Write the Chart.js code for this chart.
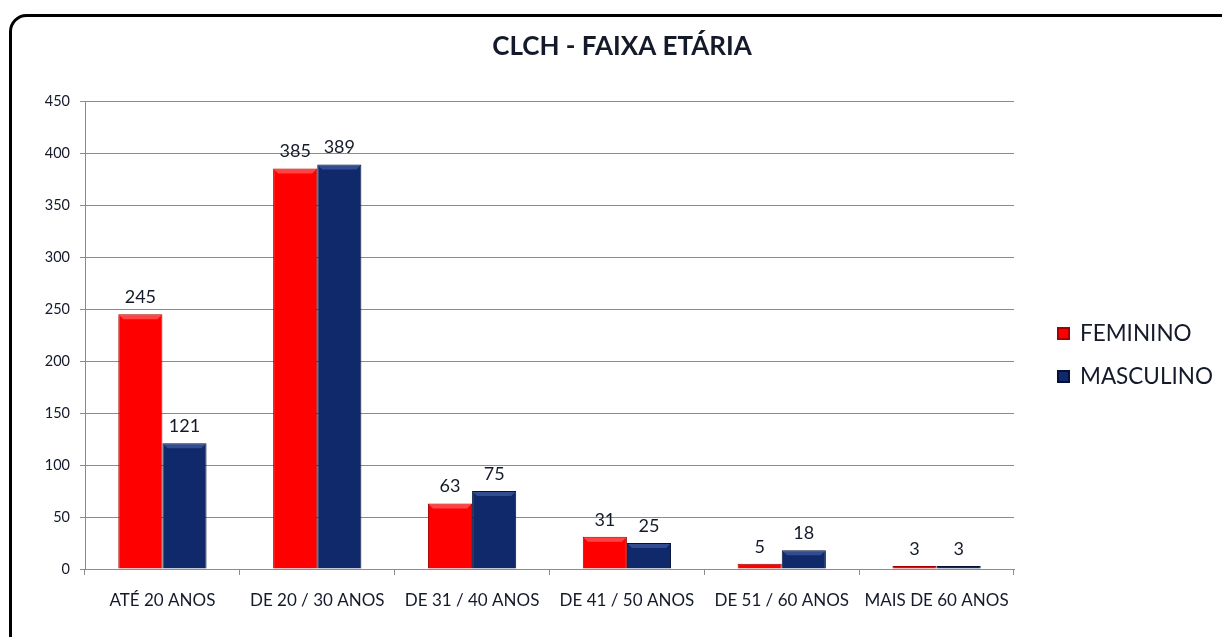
<!DOCTYPE html>
<html>
<head>
<meta charset="utf-8">
<script src="https://cdn.jsdelivr.net/npm/chart.js@4/dist/chart.umd.min.js"></script>
<style>
html,body{margin:0;padding:0;background:#fff;}
#wrap{width:1222px;height:637px;position:relative;}
</style>
</head>
<body>
<div id="wrap"><canvas id="c" width="1222" height="637"></canvas></div>
<script>
const chartTitle = "CLCH - FAIXA ETÁRIA";
const categories = ["ATÉ 20 ANOS", "DE 20 / 30 ANOS", "DE 31 / 40 ANOS", "DE 41 / 50 ANOS", "DE 51 / 60 ANOS", "MAIS DE 60 ANOS"];
const seriesNames = ["FEMININO", "MASCULINO"];
const feminino = [245, 385, 63, 31, 5, 3];
const masculino = [121, 389, 75, 25, 18, 3];
const yTicks = [0, 50, 100, 150, 200, 250, 300, 350, 400, 450];

const FONT = "Lato, 'Open Sans', sans-serif";
const TEXT = "#141a2a";
const RED = "#ff0000", RED_DARK = "#a80000", RED_LIGHT = "#ff3030";
const BLUE = "#10296a", BLUE_DARK = "#04123a", BLUE_LIGHT = "#1d3a82";

function barGradient(ctx, main, dark) {
  const el = ctx.element;
  const chart = ctx.chart;
  if (!el || el.x == null || !isFinite(el.x) || !el.width) return main;
  const g = chart.ctx.createLinearGradient(el.x - el.width / 2, 0, el.x + el.width / 2, 0);
  g.addColorStop(0, dark);
  g.addColorStop(0.1, main);
  g.addColorStop(0.9, main);
  g.addColorStop(1, dark);
  return g;
}

const framePlugin = {
  id: 'frame',
  beforeDraw(chart) {
    const c = chart.ctx;
    c.save();
    c.fillStyle = '#fff';
    c.fillRect(0, 0, chart.width, chart.height);
    c.lineWidth = 3;
    c.strokeStyle = '#000';
    const x = 10.5, y = 15.5, w = 1300, h = 700, r = 16;
    c.beginPath();
    c.moveTo(x + r, y);
    c.lineTo(x + w, y);
    c.moveTo(x, y + h);
    c.lineTo(x, y + r);
    c.arcTo(x, y, x + r, y, r);
    c.stroke();
    c.restore();
  },
  afterDatasetsDraw(chart) {
    // subtle bevel highlight on bar tops
    const c = chart.ctx;
    c.save();
    chart.data.datasets.forEach((ds, i) => {
      const meta = chart.getDatasetMeta(i);
      const light = i === 0 ? 'rgba(255,120,120,0.55)' : 'rgba(90,120,190,0.45)';
      meta.data.forEach((el) => {
        const p = el.getProps(['x', 'y', 'base', 'width'], true);
        const h = p.base - p.y;
        if (h < 8) return;
        c.fillStyle = light;
        c.beginPath();
        c.moveTo(p.x - p.width / 2 + 1, p.y + 1);
        c.lineTo(p.x + p.width / 2 - 1, p.y + 1);
        c.lineTo(p.x + p.width / 2 - 5, p.y + 5);
        c.lineTo(p.x - p.width / 2 + 5, p.y + 5);
        c.closePath();
        c.fill();
      });
    });
    c.restore();
  },
  afterDraw(chart) {
    const c = chart.ctx;
    c.save();
    // title
    c.fillStyle = TEXT;
    c.font = "bold 26px " + FONT;
    c.textAlign = 'center';
    c.textBaseline = 'middle';
    c.fillText(chartTitle, 622, 47);
    // legend
    const items = [[seriesNames[0], RED, RED_DARK, 333], [seriesNames[1], BLUE, BLUE_DARK, 376]];
    c.font = "22.5px " + FONT;
    c.textAlign = 'left';
    items.forEach(([name, col, dark, y]) => {
      c.fillStyle = dark;
      c.fillRect(1057, y - 6, 13, 13);
      c.fillStyle = col;
      c.fillRect(1059, y - 4, 9, 9);
      c.fillStyle = TEXT;
      c.fillText(name, 1080, y + 1);
    });
    // data labels
    c.font = "18px " + FONT;
    c.textAlign = 'center';
    c.textBaseline = 'bottom';
    c.fillStyle = TEXT;
    chart.data.datasets.forEach((ds, i) => {
      const meta = chart.getDatasetMeta(i);
      meta.data.forEach((el, j) => {
        const p = el.getProps(['x', 'y'], true);
        c.fillText(String(ds.data[j]), p.x, p.y - 8);
      });
    });
    c.restore();
  }
};

new Chart(document.getElementById('c'), {
  type: 'bar',
  data: {
    labels: categories,
    datasets: [
      { label: seriesNames[0], data: feminino,
        backgroundColor: (ctx) => barGradient(ctx, RED, RED_DARK),
        borderColor: RED_DARK, borderWidth: 1,
        categoryPercentage: 0.57, barPercentage: 1.0 },
      { label: seriesNames[1], data: masculino,
        backgroundColor: (ctx) => barGradient(ctx, BLUE, BLUE_DARK),
        borderColor: BLUE_DARK, borderWidth: 1,
        categoryPercentage: 0.57, barPercentage: 1.0 }
    ]
  },
  options: {
    responsive: false,
    animation: false,
    devicePixelRatio: 1,
    layout: { padding: { top: 101, right: 208, left: 0, bottom: 0 } },
    plugins: {
      legend: { display: false },
      title: { display: false },
      tooltip: { enabled: false }
    },
    scales: {
      x: {
        grid: { drawOnChartArea: false, drawTicks: true, tickLength: 6, color: '#8c8c8c', offset: true },
        border: { color: '#8c8c8c', width: 1 },
        ticks: { color: TEXT, font: { family: FONT, size: 17 }, padding: 15, maxRotation: 0, autoSkip: false },
        afterFit(s) { s.height = 68; }
      },
      y: {
        min: 0, max: 450,
        afterBuildTicks(s) { s.ticks = yTicks.map(v => ({ value: v })); },
        grid: { color: '#8c8c8c', tickLength: 5, drawTicks: true },
        border: { color: '#8c8c8c', width: 1 },
        ticks: { color: TEXT, font: { family: FONT, size: 14.5 }, padding: 10 },
        afterFit(s) { s.width = 85; }
      }
    }
  },
  plugins: [framePlugin]
});
</script>
</body>
</html>
